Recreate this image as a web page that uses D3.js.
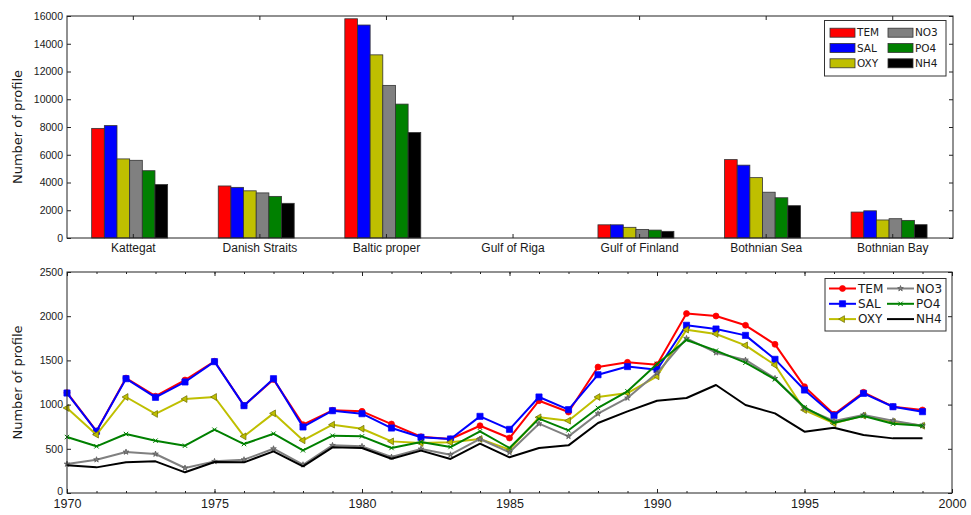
<!DOCTYPE html>
<html>
<head>
<meta charset="utf-8">
<script src="https://cdn.jsdelivr.net/npm/d3@7"></script>
<style>
  body { margin: 0; background: #fff; }
  svg { display: block; font-family: "DejaVu Sans", sans-serif; }
</style>
</head>
<body>
<div id="chart"></div>
<script>
// ---- data: profiles per region (top) ----
const regions = ["Kattegat", "Danish Straits", "Baltic proper", "Gulf of Riga", "Gulf of Finland", "Bothnian Sea", "Bothnian Bay"];
const variables = ["TEM", "SAL", "OXY", "NO3", "PO4", "NH4"];
const regionTEM = [7900, 3750, 15800, 0, 950, 5650, 1870];
const regionSAL = [8100, 3650, 15350, 0, 950, 5250, 1960];
const regionOXY = [5700, 3400, 13200, 0, 770, 4350, 1300];
const regionNO3 = [5600, 3250, 11000, 0, 620, 3300, 1390];
const regionPO4 = [4850, 3000, 9650, 0, 570, 2900, 1270];
const regionNH4 = [3850, 2500, 7600, 0, 480, 2330, 960];
const regionTicks = [0, 2000, 4000, 6000, 8000, 10000, 12000, 14000, 16000];

// ---- data: profiles per year (bottom) ----
const years = [1970, 1971, 1972, 1973, 1974, 1975, 1976, 1977, 1978, 1979,
               1980, 1981, 1982, 1983, 1984, 1985, 1986, 1987, 1988, 1989,
               1990, 1991, 1992, 1993, 1994, 1995, 1996, 1997, 1998, 1999];
const yearTEM = [1135, 700, 1300, 1095, 1278, 1490, 990, 1285, 773, 935, 924, 780, 636, 611, 761, 622, 1044, 916, 1425, 1478, 1452, 2030, 2002, 1897, 1682, 1203, 890, 1139, 976, 939];
const yearSAL = [1131, 698, 1293, 1082, 1256, 1486, 988, 1293, 747, 931, 897, 735, 630, 611, 867, 720, 1086, 943, 1338, 1430, 1395, 1897, 1855, 1783, 1512, 1165, 878, 1127, 976, 920];
const yearOXY = [962, 660, 1086, 894, 1063, 1086, 641, 901, 596, 773, 727, 584, 565, 573, 611, 490, 856, 818, 1086, 1131, 1320, 1848, 1799, 1670, 1448, 939, 788, 875, 805, 761];
const yearNO3 = [328, 377, 464, 441, 283, 358, 377, 501, 320, 539, 528, 407, 498, 433, 611, 460, 784, 641, 897, 1075, 1357, 1750, 1587, 1505, 1297, 958, 814, 882, 818, 761];
const yearPO4 = [633, 528, 667, 592, 535, 716, 554, 671, 483, 648, 641, 509, 577, 520, 698, 509, 841, 709, 962, 1150, 1460, 1731, 1610, 1474, 1286, 969, 795, 871, 784, 761];
const yearNH4 = [313, 290, 347, 358, 234, 351, 347, 471, 302, 517, 509, 388, 479, 385, 558, 404, 509, 539, 792, 924, 1044, 1075, 1222, 995, 901, 694, 739, 656, 618, 618];
const yearTicks = [0, 500, 1000, 1500, 2000, 2500];
const yearMajor = [1970, 1975, 1980, 1985, 1990, 1995, 2000];

const regionSeries = {TEM: regionTEM, SAL: regionSAL, OXY: regionOXY, NO3: regionNO3, PO4: regionPO4, NH4: regionNH4};
const yearSeries = {TEM: yearTEM, SAL: yearSAL, OXY: yearOXY, NO3: yearNO3, PO4: yearPO4, NH4: yearNH4};
const colors = {TEM: "#ff0000", SAL: "#0000ff", OXY: "#bfbf00", NO3: "#808080", PO4: "#008000", NH4: "#000000"};

const W = 971, H = 515;
const axisColor = "#222";
const fmt = d3.format("d");

const svg = d3.select("#chart").append("svg")
    .attr("width", W).attr("height", H);

// inward ticks, matplotlib style
function styleAxis(g, fontSize) {
    g.select(".domain").remove();
    g.selectAll(".tick line").attr("stroke", axisColor);
    g.selectAll(".tick text").attr("fill", "#1a1a1a").attr("font-size", fontSize);
}

// ================= top: bars per region =================
const boxTop = {left: 67, right: 953, top: 16, bottom: 238};
const xTop = d3.scaleLinear().domain([-0.52, 6.48]).range([boxTop.left, boxTop.right]);
const yTop = d3.scaleLinear().domain([0, 16000]).range([boxTop.bottom, boxTop.top]);
const barW = 0.1, barStart = -0.325;

const gTop = svg.append("g");
variables.forEach((v, k) => {
    gTop.append("g").selectAll("rect")
        .data(regionSeries[v])
        .enter().append("rect")
        .attr("x", (d, i) => xTop(i + barStart + k * barW))
        .attr("width", xTop(barW) - xTop(0))
        .attr("y", d => yTop(d))
        .attr("height", d => yTop(0) - yTop(d))
        .attr("fill", colors[v])
        .attr("stroke", "#333")
        .attr("stroke-width", 0.8);
});

gTop.append("g").attr("transform", `translate(${boxTop.left},0)`)
    .call(d3.axisLeft(yTop).tickValues(regionTicks).tickFormat(fmt).tickSizeInner(-4).tickSizeOuter(0).tickPadding(4))
    .call(g => styleAxis(g, 10.5));
gTop.append("g").attr("transform", `translate(${boxTop.right},0)`)
    .call(d3.axisRight(yTop).tickValues(regionTicks).tickSizeInner(-4).tickSizeOuter(0).tickFormat(""))
    .call(g => styleAxis(g, 10.5));
gTop.append("g").attr("transform", `translate(0,${boxTop.bottom})`)
    .call(d3.axisBottom(xTop).tickValues(d3.range(regions.length)).tickFormat(i => regions[i])
        .tickSizeInner(-4).tickSizeOuter(0).tickPadding(5))
    .call(g => styleAxis(g, 12));
gTop.append("g").attr("transform", `translate(0,${boxTop.top})`)
    .call(d3.axisTop(xTop).tickValues(d3.range(regions.length)).tickFormat("")
        .tickSizeInner(-4).tickSizeOuter(0))
    .call(g => styleAxis(g, 12));

gTop.append("rect")
    .attr("x", boxTop.left).attr("y", boxTop.top)
    .attr("width", boxTop.right - boxTop.left).attr("height", boxTop.bottom - boxTop.top)
    .attr("fill", "none").attr("stroke", axisColor).attr("stroke-width", 1);

gTop.append("text")
    .attr("transform", `translate(22,${(boxTop.top + boxTop.bottom) / 2}) rotate(-90)`)
    .attr("text-anchor", "middle").attr("font-size", 13).attr("fill", "#1a1a1a")
    .text("Number of profile");

// legend with patches
const legTop = gTop.append("g");
legTop.append("rect").attr("x", 824.5).attr("y", 20.5).attr("width", 121.5).attr("height", 55.5)
    .attr("fill", "#fff").attr("stroke", "#333").attr("stroke-width", 1);
variables.forEach((v, k) => {
    const col = Math.floor(k / 3), row = k % 3;
    const px = col ? 888 : 830, py = 32.7 + row * 15.3;
    legTop.append("rect").attr("x", px).attr("y", py - 4.5).attr("width", 25).attr("height", 9)
        .attr("fill", colors[v]).attr("stroke", "#333").attr("stroke-width", 0.8);
    legTop.append("text").attr("x", px + 27).attr("y", py).attr("dy", "0.36em")
        .attr("font-size", 10.5).attr("fill", "#1a1a1a").text(v);
});

// ================= bottom: lines per year =================
const boxBot = {left: 67, right: 952, top: 272, bottom: 493};
const xBot = d3.scaleLinear().domain([1970, 2000]).range([boxBot.left, boxBot.right]);
const yBot = d3.scaleLinear().domain([0, 2500]).range([boxBot.bottom, boxBot.top]);

// marker shapes per variable
function marker(v) {
    const sym = d3.symbol();
    switch (v) {
        case "TEM": return {path: sym.type(d3.symbolCircle).size(28)(), rot: 0};
        case "SAL": return {path: sym.type(d3.symbolSquare).size(38)(), rot: 0};
        case "OXY": return {path: sym.type(d3.symbolTriangle).size(20)(), rot: -90};
        case "NO3": return {path: sym.type(d3.symbolStar).size(10)(), rot: 0};
        case "PO4": return {path: "M-2.2,-2.2L2.2,2.2M-2.2,2.2L2.2,-2.2", rot: 0};
        default: return null;
    }
}

const line = d3.line()
    .x((d, i) => xBot(years[i]))
    .y(d => yBot(d));

const gBot = svg.append("g");
variables.forEach(v => {
    const data = yearSeries[v];
    const g = gBot.append("g");
    g.append("path").datum(data)
        .attr("d", line)
        .attr("fill", "none")
        .attr("stroke", colors[v])
        .attr("stroke-width", 2)
        .attr("stroke-linejoin", "round");
    const m = marker(v);
    if (m) {
        g.selectAll("path.mk").data(data).enter().append("path")
            .attr("class", "mk")
            .attr("d", m.path)
            .attr("transform", (d, i) => `translate(${xBot(years[i])},${yBot(d)}) rotate(${m.rot})`)
            .attr("fill", v === "PO4" ? "none" : colors[v])
            .attr("stroke", v === "NO3" ? "#555" : (v === "OXY" ? "#6b6b00" : colors[v]))
            .attr("stroke-width", v === "PO4" ? 1 : 0.7);
    }
});

gBot.append("g").attr("transform", `translate(${boxBot.left},0)`)
    .call(d3.axisLeft(yBot).tickValues(yearTicks).tickFormat(fmt).tickSizeInner(-4).tickSizeOuter(0).tickPadding(4))
    .call(g => styleAxis(g, 10.5))
    // the "0" label sits a touch higher, clear of the year labels
    .call(g => g.selectAll(".tick text").filter(d => d === 0).attr("y", -2));
gBot.append("g").attr("transform", `translate(${boxBot.right},0)`)
    .call(d3.axisRight(yBot).tickValues(yearTicks).tickSizeInner(-4).tickSizeOuter(0).tickFormat(""))
    .call(g => styleAxis(g, 10.5));
// minor ticks every year, major every five
gBot.append("g").attr("transform", `translate(0,${boxBot.bottom})`)
    .call(d3.axisBottom(xBot).tickValues(years).tickFormat("").tickSizeInner(-2).tickSizeOuter(0))
    .call(g => styleAxis(g, 12));
gBot.append("g").attr("transform", `translate(0,${boxBot.top})`)
    .call(d3.axisTop(xBot).tickValues(years).tickFormat("").tickSizeInner(-2).tickSizeOuter(0))
    .call(g => styleAxis(g, 12));
gBot.append("g").attr("transform", `translate(0,${boxBot.bottom})`)
    .call(d3.axisBottom(xBot).tickValues(yearMajor).tickFormat(fmt)
        .tickSizeInner(-4).tickSizeOuter(0).tickPadding(6))
    .call(g => styleAxis(g, 12.5));
gBot.append("g").attr("transform", `translate(0,${boxBot.top})`)
    .call(d3.axisTop(xBot).tickValues(yearMajor).tickFormat("").tickSizeInner(-4).tickSizeOuter(0))
    .call(g => styleAxis(g, 12));

gBot.append("rect")
    .attr("x", boxBot.left).attr("y", boxBot.top)
    .attr("width", boxBot.right - boxBot.left).attr("height", boxBot.bottom - boxBot.top)
    .attr("fill", "none").attr("stroke", axisColor).attr("stroke-width", 1);

gBot.append("text")
    .attr("transform", `translate(22,${(boxBot.top + boxBot.bottom) / 2}) rotate(-90)`)
    .attr("text-anchor", "middle").attr("font-size", 13).attr("fill", "#1a1a1a")
    .text("Number of profile");

// legend with line samples
const legBot = gBot.append("g");
legBot.append("rect").attr("x", 825).attr("y", 278.5).attr("width", 121).attr("height", 52.5)
    .attr("fill", "#fff").attr("stroke", "#333").attr("stroke-width", 1);
variables.forEach((v, k) => {
    const col = Math.floor(k / 3), row = k % 3;
    const lx = col ? 887 : 829, ly = 288.5 + row * 15.3;
    legBot.append("line").attr("x1", lx).attr("x2", lx + 27).attr("y1", ly).attr("y2", ly)
        .attr("stroke", colors[v]).attr("stroke-width", 2);
    const m = marker(v);
    if (m) {
        legBot.append("path").attr("d", m.path)
            .attr("transform", `translate(${lx + 13.5},${ly}) rotate(${m.rot})`)
            .attr("fill", v === "PO4" ? "none" : colors[v])
            .attr("stroke", v === "NO3" ? "#555" : (v === "OXY" ? "#6b6b00" : colors[v]))
            .attr("stroke-width", v === "PO4" ? 1 : 0.7);
    }
    legBot.append("text").attr("x", lx + 29).attr("y", ly).attr("dy", "0.36em")
        .attr("font-size", 12).attr("fill", "#1a1a1a").text(v);
});
</script>
</body>
</html>
